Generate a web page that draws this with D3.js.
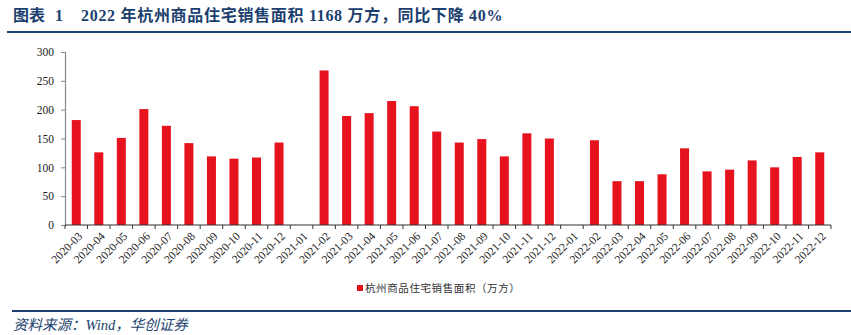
<!DOCTYPE html>
<html><head><meta charset="utf-8">
<script src="https://cdn.jsdelivr.net/npm/d3@7/dist/d3.min.js"></script>
<style>body{margin:0;background:#fff}svg{display:block}</style>
</head><body><svg id="c" width="851" height="335"></svg>
<script>
const categories = ["2020-03","2020-04","2020-05","2020-06","2020-07","2020-08","2020-09","2020-10","2020-11","2020-12",
"2021-01","2021-02","2021-03","2021-04","2021-05","2021-06","2021-07","2021-08","2021-09","2021-10","2021-11","2021-12",
"2022-01","2022-02","2022-03","2022-04","2022-05","2022-06","2022-07","2022-08","2022-09","2022-10","2022-11","2022-12"];
const salesArea = [182,126,151,201,172,142,119,115,117,143,
0,268,189,194,215,206,162,143,149,119,159,150,
0,147,76,76,88,133,93,96,112,100,118,126];
const yTicks = [0,50,100,150,200,250,300];
const titleLabel = "图表";
const titleNum = "1";
const titleText = "2022 年杭州商品住宅销售面积 1168 万方，同比下降 40%";
const legendText = "杭州商品住宅销售面积（万方）";
const sourceText = "资料来源：Wind，华创证券";

const svg = d3.select("#c");
const navy = "#1b3f6e";
const serif = "'Liberation Serif','Times New Roman',serif";
const cjk = "'Noto Sans CJK SC',sans-serif";

// title
const t = svg.append("text").attr("y",21)
  .attr("font-family", serif + "," + cjk).attr("font-weight","bold")
  .attr("font-size",16).attr("fill",navy);
t.append("tspan").attr("x",13).text(titleLabel);
t.append("tspan").attr("x",55).text(titleNum);
t.append("tspan").attr("x",81).attr("letter-spacing",0.7).text(titleText);
svg.append("line").attr("x1",7).attr("x2",851).attr("y1",32).attr("y2",32)
  .attr("stroke",navy).attr("stroke-width",2);

const x = d3.scaleBand().domain(categories).range([65,831]).paddingInner(0.6).paddingOuter(0.3);
const y = d3.scaleLinear().domain([0,300]).range([225,52]);

// bars
svg.append("g").selectAll("rect").data(salesArea).join("rect")
  .attr("x",(d,i)=>x(categories[i])).attr("width",x.bandwidth())
  .attr("y",d=>y(d)).attr("height",d=>y(0)-y(d)).attr("fill","#e6131f");

// y axis
const ya = svg.append("g").attr("transform","translate(65,0)")
  .call(d3.axisLeft(y).tickValues(yTicks).tickSize(4).tickPadding(7));
ya.select(".domain").attr("stroke","#888").attr("stroke-width",1.2);
ya.selectAll(".tick line").attr("stroke","#888");
ya.selectAll("text").attr("font-family",serif).attr("font-size",11.5).attr("fill","#222");

// x axis with ticks at band boundaries
const xa = svg.append("g").attr("transform","translate(0,225)");
xa.append("line").attr("x1",65).attr("x2",831).attr("stroke","#333").attr("stroke-width",1.2);
const step = x.step();
const bounds = categories.map(c=>x(c) - (step - x.bandwidth())/2).concat([x.range()[1]]);
xa.selectAll("line.t").data(bounds).join("line").attr("class","t")
  .attr("x1",d=>d).attr("x2",d=>d).attr("y1",0).attr("y2",4).attr("stroke","#333");
xa.selectAll("text").data(categories).join("text")
  .attr("transform",c=>`translate(${x(c)+x.bandwidth()/2+4},${9}) rotate(-45)`)
  .attr("text-anchor","end").attr("font-family",serif).attr("font-size",11.5).attr("fill","#222")
  .attr("dy","0.35em").text(c=>c);

// legend
svg.append("rect").attr("x",357).attr("y",285).attr("width",6).attr("height",6).attr("fill","#e6131f");
svg.append("text").attr("x",365).attr("y",292).attr("font-family",cjk).attr("font-size",10.5)
  .attr("letter-spacing",0.6).attr("fill","#333").text(legendText);

// source
svg.append("line").attr("x1",12).attr("x2",851).attr("y1",311).attr("y2",311)
  .attr("stroke",navy).attr("stroke-width",2);
svg.append("text").attr("x",13).attr("y",330).attr("font-family",serif+","+cjk)
  .attr("font-style","italic").attr("font-size",14.5).attr("fill",navy).text(sourceText);
</script></body></html>
